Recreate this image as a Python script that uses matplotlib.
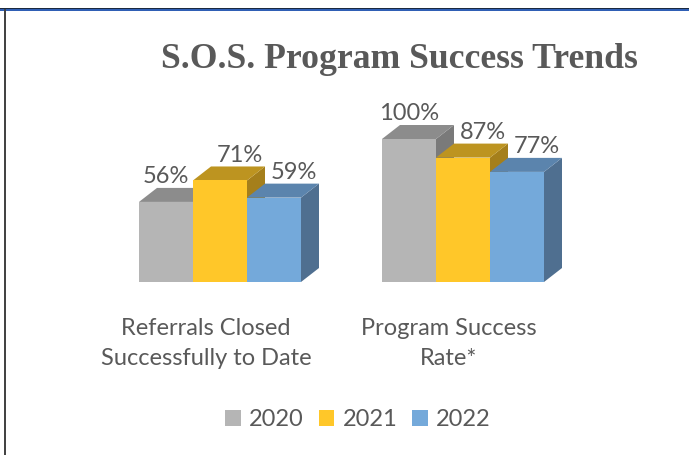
import matplotlib
matplotlib.use('Agg')
import matplotlib.pyplot as plt
from matplotlib.patches import Polygon, Rectangle
from matplotlib.transforms import ScaledTranslation

categories = ['Referrals Closed\nSuccessfully to Date', 'Program Success\nRate*']
years = ['2020', '2021', '2022']
values_2020 = [56, 100]
values_2021 = [71, 87]
values_2022 = [59, 77]

front_colors = ['#b5b5b5', '#ffc729', '#74a9da']
top_colors = ['#8c8c8c', '#bd9420', '#5b84ad']
side_colors = ['#7a7a7a', '#a57f1b', '#4f6f90']
label_shift = [0, 0.08, 0.08]  # value labels sit to the right of the bar centre
text_color = '#595959'

W, H = 689, 455
fig = plt.figure(figsize=(W / 100, H / 100), dpi=100)

# page frame, blue line on top and dark line on the left
fig.add_artist(Rectangle((0, 1 - 11 / H), 1, 2 / H, transform=fig.transFigure, color='#2f5fb5', lw=0))
fig.add_artist(Rectangle((0, 1 - 9 / H), 1, 1 / H, transform=fig.transFigure, color='#1b2a40', lw=0))
fig.add_artist(Rectangle((4 / W, 0), 2 / W, 1 - 9 / H, transform=fig.transFigure, color='#444444', lw=0))

# axes placed so 0-100 runs from the chart floor up to the tallest bar
ax = fig.add_axes([98.5 / W, 1 - 282 / H, 486 / W, 143 / H])
ax.set_xlim(-0.5, 1.5)
ax.set_ylim(0, 100)

bar_w = 54 / 243
dx = 18 / 243
dy = 14 / 1.43

series = [values_2020, values_2021, values_2022]
for i, vals in enumerate(series):
    offset = (i - 1) * bar_w
    for j, v in enumerate(vals):
        x = j + offset
        left, right = x - bar_w / 2, x + bar_w / 2
        z = 2 + i
        # right hand side and top of the block
        ax.add_patch(Polygon([(right, 0), (right + dx, dy), (right + dx, v + dy), (right, v)],
                             facecolor=side_colors[i], edgecolor='none', clip_on=False, zorder=z))
        ax.add_patch(Polygon([(left, v), (left + dx, v + dy), (right + dx, v + dy), (right, v)],
                             facecolor=top_colors[i], edgecolor='none', clip_on=False, zorder=z))
        ax.bar(x, v, bar_w, color=front_colors[i], label=years[i] if j == 0 else None,
               clip_on=False, zorder=z + 0.5)
        ax.text(x + label_shift[i], v + dy + 8, f'{v}%', ha='center', va='center', fontsize=17,
                family='Lato', color=text_color, zorder=10)

ax.set_xticks([0, 1])
ax.set_xticklabels(categories, fontsize=17, family='Lato', color=text_color, linespacing=1.52)
ax.tick_params(axis='x', length=0, pad=26)
# category labels are centred a bit left of their bar groups
shift = ScaledTranslation(-14 / 100, 0, fig.dpi_scale_trans)
for lab in ax.get_xticklabels():
    lab.set_transform(lab.get_transform() + shift)
ax.set_yticks([])
for s in ax.spines.values():
    s.set_visible(False)
ax.patch.set_alpha(0)

fig.text(399 / W, 1 - 60 / H, 'S.O.S. Program Success Trends', ha='center', va='center',
         fontsize=25.7, fontweight='bold', family='Liberation Serif', color=text_color)

fig.legend(loc='center', bbox_to_anchor=(358 / W, 1 - 420 / H), ncol=3, frameon=False,
           prop={'family': 'Lato', 'size': 17}, labelcolor=text_color, handlelength=0.65,
           handleheight=0.65, handletextpad=0.35, columnspacing=0.64)

fig.savefig('out.png', dpi=100)
